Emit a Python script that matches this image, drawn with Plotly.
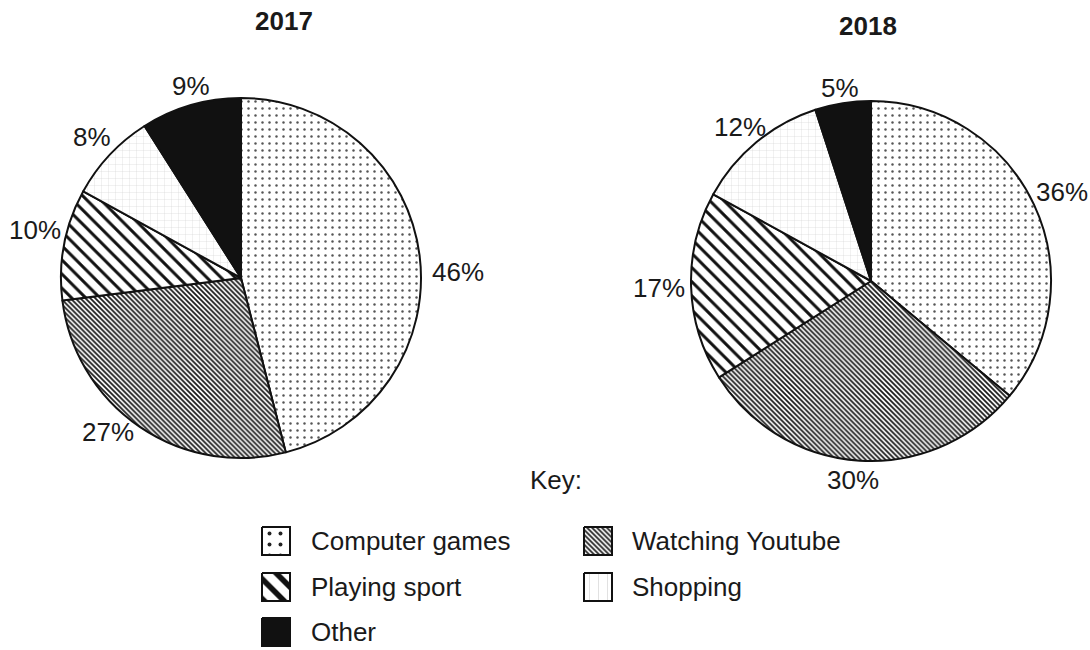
import plotly.graph_objects as go

# Data
activities = ["Computer games", "Watching Youtube", "Playing sport", "Shopping", "Other"]
share_2017 = [46, 27, 10, 8, 9]
share_2018 = [36, 30, 17, 12, 5]
years = ["2017", "2018"]

W, H = 1090, 650
FONT = "Liberation Sans, Arial, sans-serif"
INK = "#1a1a1a"
FS = 26

# Fill pattern for each activity (pie slices)
slice_shapes = [".", "\\", "\\", "+", ""]
slice_fg = ["#555555", "#1a1a1a", "#111111", "#cfcfcf", "#111111"]
slice_bg = ["white", "white", "white", "white", "#111111"]
slice_size = [7, 3.5, 10, 7, 8]
slice_solid = [0.1, 0.5, 0.3, 0.08, 0.3]

fig = go.Figure()


def px_domain(cx, cy, r):
    return dict(x=[(cx - r) / W, (cx + r) / W],
                y=[1 - (cy + r) / H, 1 - (cy - r) / H])


pie_geom = [(241, 278, 180), (871, 281, 180)]
for vals, (cx, cy, r) in zip([share_2017, share_2018], pie_geom):
    fig.add_trace(go.Pie(
        labels=activities, values=vals, sort=False, direction="clockwise",
        rotation=0, textinfo="none", hoverinfo="label+percent",
        showlegend=False, domain=px_domain(cx, cy, r),
        marker=dict(
            colors=slice_bg,
            line=dict(color="#111111", width=2),
            pattern=dict(shape=slice_shapes, fgcolor=slice_fg, bgcolor=slice_bg,
                         size=slice_size, solidity=slice_solid, fillmode="replace"),
        ),
    ))

# Key swatches drawn on a hidden pixel-space axis
key_cols = [(262, 309), (584, 630)]
key_rows = [541, 587, 632]
key_layout = [(0, 0), (1, 0), (0, 1), (1, 1), (0, 2)]
key_shapes = [".", "\\", "\\", "|", ""]
key_fg = ["#222222", "#222222", "#111111", "#aaaaaa", "#111111"]
key_bg = ["white", "white", "white", "white", "#111111"]
key_size = [11, 3.5, 14, 9, 8]
key_solid = [0.1, 0.5, 0.4, 0.04, 0.3]
BOX = 28

for i, name in enumerate(activities):
    col, row = key_layout[i]
    bx, tx = key_cols[col]
    cy = key_rows[row]
    x0, x1 = bx, bx + BOX
    y0, y1 = cy - BOX / 2, cy + BOX / 2
    fig.add_trace(go.Scatter(
        x=[x0, x1, x1, x0, x0], y=[y0, y0, y1, y1, y0],
        mode="lines", fill="toself", showlegend=False, hoverinfo="skip",
        line=dict(color="#111111", width=2),
        fillcolor=key_bg[i],
        fillpattern=dict(shape=key_shapes[i], fgcolor=key_fg[i], bgcolor=key_bg[i],
                         size=key_size[i], solidity=key_solid[i], fillmode="replace"),
    ))
    fig.add_annotation(x=tx, y=cy, text=name, xanchor="left", yanchor="middle",
                       showarrow=False, font=dict(family=FONT, size=FS, color=INK))

# Year titles
for yr, (x, y) in zip(years, [(284, 21), (868, 26)]):
    fig.add_annotation(x=x, y=y, text=f"<b>{yr}</b>", showarrow=False,
                       xanchor="center", yanchor="middle",
                       font=dict(family=FONT, size=FS, color=INK))

# Percentage labels
label_pos_2017 = [(458, 272), (108, 432), (35, 230), (92, 137), (191, 86)]
label_pos_2018 = [(1062, 192), (853, 480), (659, 288), (740, 127), (840, 88)]
for vals, pos in [(share_2017, label_pos_2017), (share_2018, label_pos_2018)]:
    for v, (x, y) in zip(vals, pos):
        fig.add_annotation(x=x, y=y, text=f"{v}%", showarrow=False,
                           xanchor="center", yanchor="middle",
                           font=dict(family=FONT, size=FS, color=INK))

fig.add_annotation(x=556, y=480, text="Key:", showarrow=False,
                   xanchor="center", yanchor="middle",
                   font=dict(family=FONT, size=FS, color=INK))

fig.update_layout(
    width=W, height=H, margin=dict(l=0, r=0, t=0, b=0),
    paper_bgcolor="white", plot_bgcolor="white",
    xaxis=dict(range=[0, W], visible=False, fixedrange=True, domain=[0, 1]),
    yaxis=dict(range=[H, 0], visible=False, fixedrange=True, domain=[0, 1]),
    showlegend=False,
)

fig.write_html("out.html")
